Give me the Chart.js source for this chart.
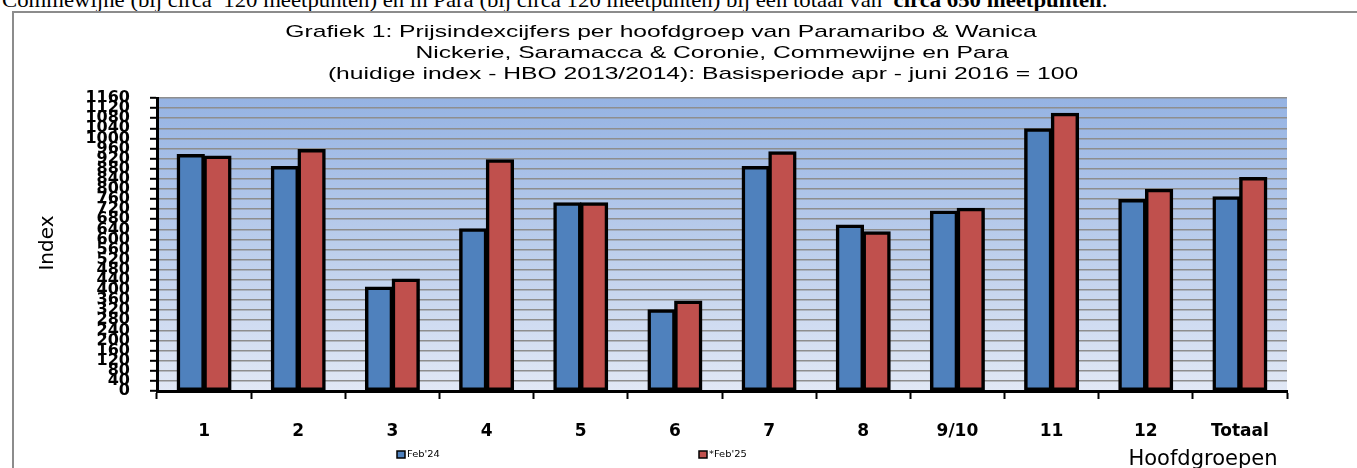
<!DOCTYPE html>
<html><head><meta charset="utf-8">
<script src="https://cdn.jsdelivr.net/npm/chart.js@4.4.1/dist/chart.umd.min.js"></script>
<style>
html,body{margin:0;padding:0;background:#fff;overflow:hidden;width:1357px;height:468px;}
#top{position:absolute;left:2px;top:-13px;font-family:"Liberation Serif","Times New Roman",serif;font-size:22px;white-space:pre;color:#000;transform-origin:0 0;transform:scaleX(1.035);}
#box{position:absolute;left:12px;top:11px;width:1400px;height:500px;border:2px solid #8c8c8c;box-sizing:border-box;}
#wrap{position:absolute;left:0;top:0;width:1357px;height:468px;}
</style></head><body>
<div id="top">Commewijne (bij circa  120 meetpunten) en in Para (bij circa 120 meetpunten) bij een totaal van  <b>circa 650 meetpunten</b>.</div>
<div id="box"></div>
<div id="wrap"><canvas id="c" width="1357" height="468"></canvas></div>
<script>
const categories = ['1','2','3','4','5','6','7','8','9/10','11','12','Totaal'];
const feb24 = [935, 888, 411, 641, 744, 320, 888, 656, 711, 1037, 757, 768];
const feb25 = [929, 955, 442, 914, 744, 355, 946, 629, 722, 1098, 798, 844];
const seriesLabels = ["Feb'24", "*Feb'25"];
const yMin = 0, yMax = 1160, yStep = 40;
const titleLines = [
  'Grafiek 1: Prijsindexcijfers per hoofdgroep van Paramaribo & Wanica',
  'Nickerie, Saramacca & Coronie, Commewijne en Para',
  '(huidige index - HBO 2013/2014): Basisperiode apr - juni 2016 = 100'
];
const yTitle = 'Index';
const xTitle = 'Hoofdgroepen';

const BLUE = '#4f81bd', RED = '#c0504d';

const decor = {
  id: 'decor',
  beforeDraw(chart) {
    const {ctx, chartArea: a} = chart;
    ctx.save();
    const g = ctx.createLinearGradient(0, a.top, 0, a.bottom);
    g.addColorStop(0, '#95b3e3');
    g.addColorStop(1, '#e1e8f5');
    ctx.fillStyle = g;
    ctx.fillRect(a.left, a.top, a.right - a.left, a.bottom - a.top);
    ctx.restore();
  },
  afterDraw(chart) {
    const {ctx} = chart;
    ctx.save();
    ctx.fillStyle = '#000';
    ctx.font = '17px "Liberation Sans", Arial, sans-serif';
    ctx.textBaseline = 'alphabetic';
    ctx.textAlign = 'center';
    const cx = [661, 712, 703], by = [37, 58, 79];
    titleLines.forEach((t, i) => {
      ctx.save();
      ctx.translate(cx[i], by[i]);
      ctx.scale(1.45, 1);
      ctx.fillText(t, 0, 0);
      ctx.restore();
    });
    ctx.save();
    ctx.font = '20px "DejaVu Sans", sans-serif';
    ctx.translate(48, 243);
    ctx.rotate(-Math.PI / 2);
    ctx.textAlign = 'center';
    ctx.textBaseline = 'middle';
    ctx.fillText(yTitle, 0, 0);
    ctx.restore();
    ctx.font = '21px "DejaVu Sans", sans-serif';
    ctx.textAlign = 'center';
    ctx.textBaseline = 'middle';
    ctx.fillText(xTitle, 1203, 460);
    const lx = [397, 699];
    chart.data.datasets.forEach((ds, i) => {
      ctx.fillStyle = ds.backgroundColor;
      ctx.strokeStyle = '#000';
      ctx.lineWidth = 1.5;
      ctx.fillRect(lx[i], 451, 8, 7);
      ctx.strokeRect(lx[i], 451, 8, 7);
      ctx.fillStyle = '#000';
      ctx.font = '9px "DejaVu Sans", sans-serif';
      ctx.textAlign = 'left';
      ctx.textBaseline = 'middle';
      ctx.save();
      ctx.translate(lx[i] + 10, 455);
      ctx.scale(1.1, 1);
      ctx.fillText(ds.label, 0, 0);
      ctx.restore();
    });
    ctx.restore();
  }
};

new Chart(document.getElementById('c'), {
  type: 'bar',
  data: {
    labels: categories,
    datasets: [
      {label: seriesLabels[0], data: feb24, backgroundColor: BLUE, borderColor: '#000', borderWidth: 3.5, borderSkipped: false, inflateAmount: 0.8},
      {label: seriesLabels[1], data: feb25, backgroundColor: RED, borderColor: '#000', borderWidth: 3.5, borderSkipped: false, inflateAmount: 0.8}
    ]
  },
  options: {
    responsive: false,
    animation: false,
    layout: {padding: {left: 0, top: 98, right: 70, bottom: 17}},
    plugins: {legend: {display: false}, title: {display: false}, tooltip: {enabled: false}},
    datasets: {bar: {categoryPercentage: 0.567, barPercentage: 1}},
    scales: {
      x: {
        afterFit(s) { s.height = 60; },
        grid: {drawOnChartArea: false, drawTicks: true, tickLength: 8, tickColor: '#000', tickWidth: 2, offset: true},
        border: {color: '#000', width: 3},
        ticks: {color: '#000', padding: 22, font: {family: '"DejaVu Sans", sans-serif', size: 17, weight: 'bold'}, maxRotation: 0, autoSkip: false}
      },
      y: {
        min: yMin, max: yMax,
        afterFit(s) { s.width = 157; },
        grid: {color: '#8e8e8e', lineWidth: 1.6, tickLength: 7, tickColor: '#000', tickWidth: 2},
        border: {color: '#000', width: 3},
        ticks: {stepSize: yStep, autoSkip: false, color: '#000', padding: 20,
          callback: v => String(v),
          font: {family: '"DejaVu Sans", sans-serif', size: 16, weight: 'bold'}}
      }
    }
  },
  plugins: [decor]
});
</script>
</body></html>
